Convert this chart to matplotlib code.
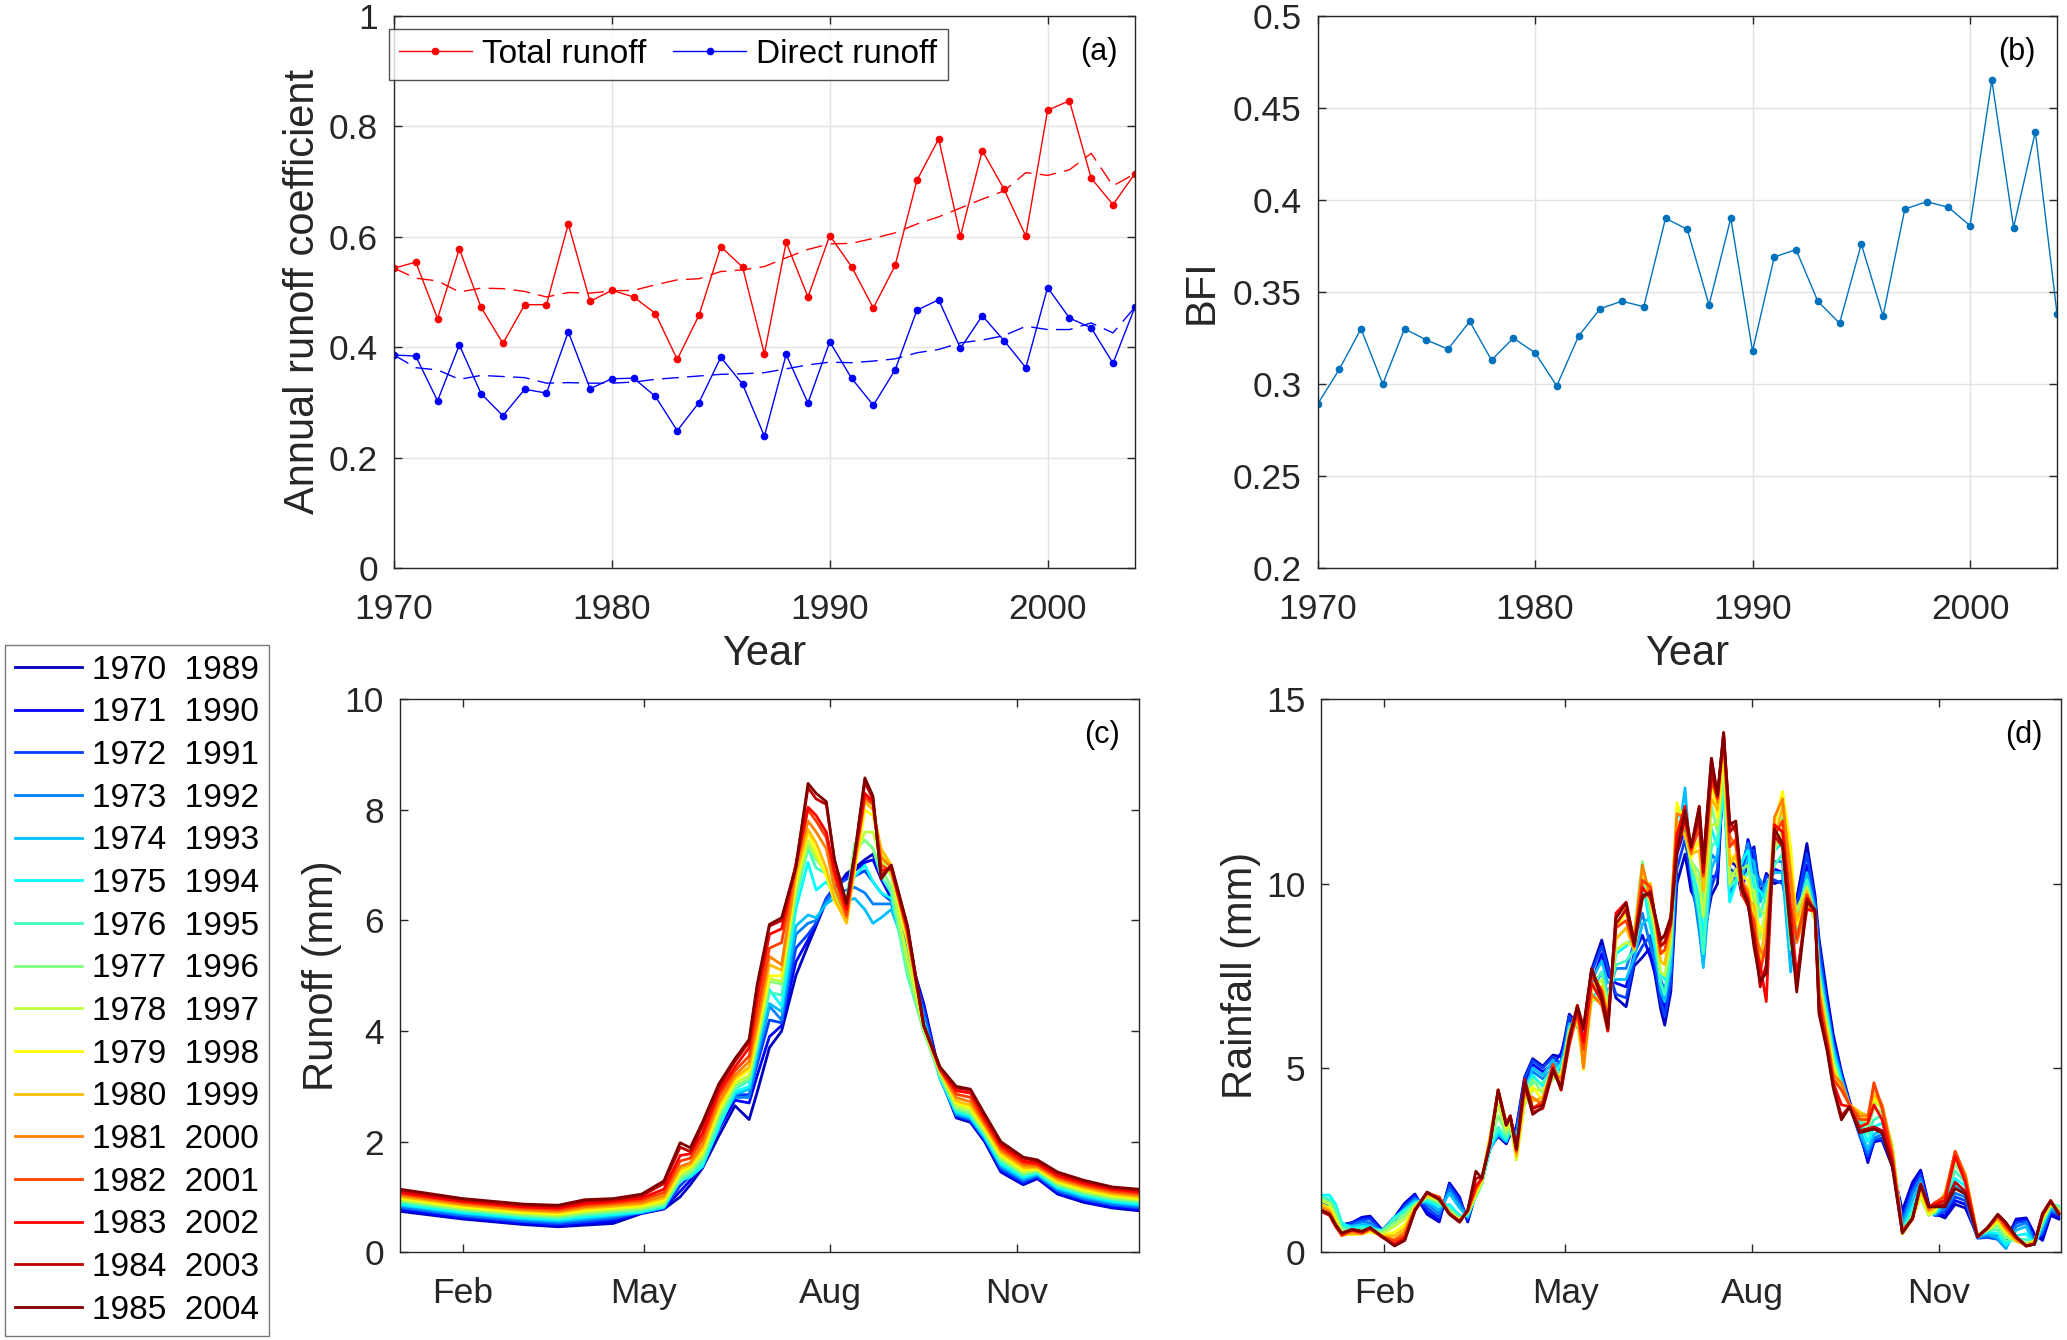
import numpy as np
import matplotlib.pyplot as plt
from matplotlib.lines import Line2D

plt.rcParams['font.family'] = ['Liberation Sans', 'DejaVu Sans']

# ---------------- data ----------------
years = list(range(1970, 2005))

total_runoff = [0.543, 0.554, 0.452, 0.578, 0.472, 0.407, 0.477, 0.477, 0.623, 0.483,
                0.503, 0.491, 0.461, 0.378, 0.458, 0.582, 0.545, 0.388, 0.590, 0.491,
                0.602, 0.546, 0.471, 0.548, 0.702, 0.777, 0.601, 0.756, 0.686, 0.601,
                0.829, 0.846, 0.706, 0.658, 0.714]
total_trend = [0.543, 0.525, 0.520, 0.500, 0.507, 0.506, 0.501, 0.491, 0.499, 0.498,
               0.502, 0.503, 0.513, 0.522, 0.524, 0.537, 0.540, 0.546, 0.562, 0.577,
               0.587, 0.588, 0.597, 0.607, 0.623, 0.636, 0.652, 0.668, 0.683, 0.716,
               0.711, 0.721, 0.751, 0.692, 0.714]
direct_runoff = [0.386, 0.384, 0.303, 0.404, 0.316, 0.276, 0.324, 0.317, 0.428, 0.325,
                 0.343, 0.344, 0.311, 0.249, 0.300, 0.382, 0.333, 0.239, 0.387, 0.299,
                 0.410, 0.344, 0.295, 0.359, 0.467, 0.486, 0.398, 0.457, 0.412, 0.363,
                 0.508, 0.453, 0.435, 0.371, 0.472]
direct_trend = [0.386, 0.363, 0.359, 0.342, 0.349, 0.347, 0.345, 0.335, 0.336, 0.335,
                0.335, 0.337, 0.342, 0.345, 0.348, 0.351, 0.352, 0.354, 0.361, 0.368,
                0.373, 0.372, 0.375, 0.379, 0.390, 0.396, 0.408, 0.413, 0.421, 0.438,
                0.432, 0.432, 0.444, 0.426, 0.472]

bfi = [0.289, 0.308, 0.330, 0.300, 0.330, 0.324, 0.319, 0.334, 0.313, 0.325,
       0.317, 0.299, 0.326, 0.341, 0.345, 0.342, 0.390, 0.384, 0.343, 0.390,
       0.318, 0.369, 0.373, 0.345, 0.333, 0.376, 0.337, 0.395, 0.399, 0.396,
       0.386, 0.465, 0.385, 0.437, 0.338]

# 20-year windows: 1970-1989 ... 1985-2004
window_starts = list(range(1970, 1986))

# mean daily runoff (mm), one row per day of year, one column per window
runoff_days = [1, 32, 62, 79, 92, 106, 120, 131, 139, 144, 150, 158, 166, 173, 177,
               183, 189, 196, 202, 206, 211, 215, 221, 225, 230, 234, 238, 243, 251,
               259, 267, 275, 282, 289, 297, 308, 315, 325, 338, 352, 365]
runoff_table = [
    [0.74, 0.77, 0.80, 0.82, 0.85, 0.87, 0.90, 0.93, 0.95, 0.98, 1.00, 1.03, 1.06, 1.08, 1.12, 1.14],
    [0.60, 0.62, 0.65, 0.67, 0.70, 0.72, 0.75, 0.77, 0.80, 0.82, 0.85, 0.87, 0.90, 0.92, 0.95, 0.97],
    [0.50, 0.52, 0.55, 0.57, 0.60, 0.62, 0.65, 0.67, 0.70, 0.72, 0.75, 0.77, 0.80, 0.82, 0.85, 0.87],
    [0.46, 0.49, 0.51, 0.54, 0.56, 0.59, 0.61, 0.64, 0.67, 0.69, 0.72, 0.74, 0.77, 0.80, 0.83, 0.85],
    [0.49, 0.52, 0.55, 0.58, 0.61, 0.64, 0.67, 0.70, 0.73, 0.76, 0.79, 0.82, 0.85, 0.88, 0.92, 0.95],
    [0.52, 0.56, 0.60, 0.63, 0.66, 0.68, 0.71, 0.74, 0.77, 0.80, 0.83, 0.86, 0.89, 0.92, 0.95, 0.97],
    [0.70, 0.71, 0.72, 0.72, 0.72, 0.73, 0.75, 0.78, 0.81, 0.84, 0.87, 0.90, 0.94, 0.98, 1.02, 1.05],
    [0.78, 0.79, 0.80, 0.80, 0.81, 0.82, 0.84, 0.87, 0.90, 0.94, 0.98, 1.02, 1.08, 1.14, 1.24, 1.29],
    [1.00, 1.10, 1.20, 1.30, 1.35, 1.30, 1.30, 1.35, 1.40, 1.45, 1.50, 1.55, 1.65, 1.75, 1.90, 1.98],
    [1.22, 1.30, 1.38, 1.42, 1.40, 1.36, 1.40, 1.45, 1.50, 1.55, 1.58, 1.62, 1.70, 1.78, 1.82, 1.89],
    [1.52, 1.60, 1.66, 1.70, 1.62, 1.55, 1.62, 1.70, 1.76, 1.82, 1.88, 1.95, 2.05, 2.15, 2.28, 2.35],
    [2.10, 2.22, 2.35, 2.40, 2.30, 2.25, 2.35, 2.45, 2.52, 2.58, 2.65, 2.72, 2.82, 2.90, 2.98, 3.04],
    [2.65, 2.75, 2.85, 2.80, 2.85, 2.90, 2.95, 3.00, 3.05, 3.10, 3.15, 3.20, 3.28, 3.35, 3.45, 3.50],
    [2.40, 2.70, 2.85, 2.80, 2.95, 3.00, 3.10, 3.15, 3.20, 3.30, 3.35, 3.45, 3.55, 3.70, 3.80, 3.85],
    [2.90, 3.20, 3.40, 3.50, 3.60, 3.70, 3.75, 3.80, 3.85, 3.95, 4.05, 4.15, 4.35, 4.60, 4.80, 4.85],
    [3.70, 3.90, 4.20, 4.45, 4.50, 4.75, 4.70, 4.90, 4.95, 5.00, 5.20, 5.35, 5.50, 5.75, 5.90, 5.93],
    [4.00, 4.10, 4.15, 4.20, 4.35, 4.45, 4.65, 4.85, 4.90, 5.00, 5.10, 5.20, 5.60, 5.85, 6.00, 6.05],
    [5.00, 5.25, 5.50, 5.75, 5.90, 6.20, 6.40, 6.50, 6.60, 6.70, 6.80, 6.90, 7.00, 7.00, 7.00, 6.95],
    [5.55, 5.65, 5.75, 5.95, 6.10, 7.05, 7.30, 7.35, 7.45, 7.60, 7.65, 7.80, 8.00, 8.05, 8.40, 8.48],
    [5.90, 5.95, 5.95, 6.00, 6.05, 6.55, 6.95, 7.10, 7.15, 7.25, 7.40, 7.60, 7.80, 7.90, 8.20, 8.30],
    [6.35, 6.40, 6.40, 6.35, 6.30, 6.70, 6.85, 6.90, 6.85, 6.80, 6.95, 7.30, 7.50, 7.60, 8.10, 8.15],
    [6.55, 6.60, 6.60, 6.50, 6.40, 6.50, 6.60, 6.55, 6.45, 6.35, 6.40, 6.60, 6.80, 6.90, 7.10, 7.10],
    [6.85, 6.80, 6.75, 6.55, 6.35, 6.45, 6.40, 6.30, 6.10, 6.00, 5.95, 6.05, 6.10, 6.20, 6.30, 6.30],
    [6.95, 6.90, 6.80, 6.60, 6.40, 6.80, 7.30, 7.40, 7.10, 6.90, 7.00, 7.10, 7.10, 7.15, 7.20, 7.20],
    [7.10, 7.05, 6.90, 6.50, 6.20, 7.00, 7.45, 7.45, 7.60, 8.00, 8.15, 8.20, 8.25, 8.30, 8.50, 8.58],
    [7.20, 7.10, 6.70, 6.30, 5.95, 6.70, 7.30, 7.30, 7.60, 7.90, 8.00, 8.10, 8.10, 8.15, 8.20, 8.25],
    [6.80, 6.75, 6.50, 6.30, 6.05, 6.50, 6.80, 6.95, 7.10, 7.25, 7.30, 7.15, 7.00, 6.90, 6.80, 6.75],
    [6.40, 6.40, 6.35, 6.30, 6.20, 6.40, 6.50, 6.60, 6.80, 6.95, 7.00, 6.95, 6.90, 6.95, 7.00, 7.00],
    [5.50, 5.50, 5.45, 5.40, 5.40, 5.20, 5.00, 5.10, 5.30, 5.60, 5.70, 5.75, 5.80, 5.85, 5.90, 5.90],
    [4.50, 4.45, 4.40, 4.30, 4.20, 4.10, 4.00, 4.00, 4.05, 4.10, 4.10, 4.10, 4.10, 4.10, 4.10, 4.10],
    [3.20, 3.20, 3.15, 3.15, 3.15, 3.15, 3.20, 3.20, 3.25, 3.30, 3.30, 3.30, 3.30, 3.32, 3.35, 3.35],
    [2.43, 2.45, 2.47, 2.49, 2.51, 2.54, 2.57, 2.60, 2.65, 2.70, 2.74, 2.80, 2.86, 2.92, 2.97, 3.00],
    [2.35, 2.37, 2.39, 2.41, 2.43, 2.46, 2.49, 2.52, 2.57, 2.62, 2.66, 2.72, 2.80, 2.88, 2.93, 2.95],
    [2.00, 2.02, 2.04, 2.06, 2.08, 2.10, 2.13, 2.16, 2.20, 2.24, 2.28, 2.32, 2.36, 2.42, 2.48, 2.50],
    [1.45, 1.48, 1.51, 1.54, 1.57, 1.60, 1.64, 1.68, 1.72, 1.76, 1.80, 1.84, 1.88, 1.93, 1.97, 2.00],
    [1.22, 1.24, 1.27, 1.30, 1.33, 1.36, 1.39, 1.42, 1.45, 1.49, 1.53, 1.57, 1.61, 1.65, 1.70, 1.72],
    [1.33, 1.35, 1.37, 1.39, 1.41, 1.43, 1.45, 1.47, 1.49, 1.51, 1.53, 1.55, 1.58, 1.61, 1.65, 1.67],
    [1.05, 1.07, 1.10, 1.12, 1.15, 1.17, 1.20, 1.22, 1.25, 1.28, 1.30, 1.33, 1.36, 1.39, 1.43, 1.45],
    [0.90, 0.92, 0.95, 0.97, 1.00, 1.03, 1.05, 1.08, 1.10, 1.13, 1.16, 1.19, 1.22, 1.25, 1.28, 1.30],
    [0.80, 0.82, 0.85, 0.87, 0.90, 0.92, 0.95, 0.97, 1.00, 1.03, 1.05, 1.08, 1.11, 1.14, 1.17, 1.18],
    [0.75, 0.77, 0.80, 0.82, 0.85, 0.87, 0.90, 0.92, 0.95, 0.97, 1.00, 1.03, 1.06, 1.09, 1.12, 1.14],
]

# mean daily rainfall (mm), same layout
rain_days = [1, 5, 8, 11, 16, 21, 25, 31, 37, 42, 47, 53, 59, 64, 69, 73, 77, 80, 84, 88,
             92, 94, 97, 101, 105, 110, 115, 119, 123, 127, 130, 134, 139, 142, 146, 151,
             155, 159, 163, 168, 170, 173, 176, 180, 183, 187, 189, 193, 196, 199, 202,
             205, 208, 211, 214, 217, 220, 224, 228, 232, 235, 240, 244, 246, 250, 253,
             257, 261, 266, 270, 273, 277, 282, 287, 292, 296, 300, 303, 308, 313, 318,
             324, 329, 334, 338, 343, 348, 352, 356, 360, 364]
rain_table = [
    [1.30, 1.32, 1.35, 1.40, 1.45, 1.55, 1.50, 1.45, 1.40, 1.30, 1.28, 1.20, 1.15, 1.10, 1.12, 1.13],
    [1.20, 1.18, 1.20, 1.30, 1.40, 1.55, 1.45, 1.35, 1.30, 1.20, 1.15, 1.10, 1.05, 1.00, 1.02, 1.03],
    [0.85, 0.90, 0.95, 1.00, 1.10, 1.30, 1.20, 1.05, 0.95, 0.85, 0.80, 0.75, 0.70, 0.70, 0.72, 0.75],
    [0.75, 0.72, 0.70, 0.70, 0.75, 0.80, 0.70, 0.60, 0.55, 0.50, 0.48, 0.45, 0.45, 0.50, 0.50, 0.52],
    [0.80, 0.80, 0.78, 0.72, 0.70, 0.65, 0.60, 0.55, 0.50, 0.48, 0.50, 0.55, 0.60, 0.62, 0.60, 0.62],
    [0.95, 0.92, 0.88, 0.82, 0.75, 0.70, 0.65, 0.60, 0.55, 0.50, 0.50, 0.50, 0.52, 0.55, 0.55, 0.57],
    [0.98, 0.95, 0.90, 0.80, 0.72, 0.68, 0.62, 0.58, 0.55, 0.55, 0.60, 0.62, 0.65, 0.65, 0.66, 0.67],
    [0.60, 0.58, 0.55, 0.55, 0.50, 0.55, 0.60, 0.55, 0.50, 0.45, 0.45, 0.42, 0.42, 0.40, 0.42, 0.42],
    [0.95, 0.90, 0.85, 0.90, 0.95, 0.95, 0.90, 0.80, 0.70, 0.55, 0.45, 0.35, 0.30, 0.22, 0.18, 0.17],
    [1.33, 1.30, 1.25, 1.20, 1.15, 1.15, 1.10, 1.00, 0.90, 0.75, 0.65, 0.55, 0.45, 0.38, 0.33, 0.32],
    [1.58, 1.55, 1.50, 1.45, 1.40, 1.35, 1.30, 1.30, 1.25, 1.20, 1.20, 1.18, 1.15, 1.13, 1.12, 1.13],
    [1.03, 1.10, 1.20, 1.30, 1.35, 1.40, 1.45, 1.50, 1.50, 1.55, 1.55, 1.60, 1.60, 1.62, 1.63, 1.63],
    [0.82, 0.88, 0.95, 1.05, 1.15, 1.25, 1.30, 1.35, 1.40, 1.45, 1.45, 1.50, 1.50, 1.45, 1.43, 1.43],
    [1.88, 1.85, 1.80, 1.70, 1.60, 1.30, 1.20, 1.15, 1.10, 1.05, 1.05, 1.05, 1.05, 1.05, 1.05, 1.03],
    [1.50, 1.45, 1.40, 1.30, 1.20, 1.00, 0.95, 0.90, 0.90, 0.85, 0.85, 0.85, 0.85, 0.82, 0.82, 0.82],
    [0.82, 0.85, 0.90, 0.95, 0.95, 1.00, 1.05, 1.05, 1.10, 1.10, 1.10, 1.12, 1.12, 1.15, 1.13, 1.13],
    [1.60, 1.60, 1.60, 1.55, 1.55, 1.50, 1.50, 1.50, 1.55, 1.60, 1.65, 1.70, 1.75, 1.80, 2.00, 2.20],
    [2.00, 2.00, 1.95, 1.95, 1.90, 1.90, 1.85, 1.90, 1.90, 1.95, 2.00, 2.00, 2.00, 2.00, 2.05, 2.00],
    [2.84, 2.85, 2.85, 2.80, 2.80, 2.85, 2.90, 3.00, 3.10, 3.15, 3.10, 3.05, 3.00, 2.95, 2.95, 2.94],
    [3.14, 3.20, 3.25, 3.20, 3.20, 3.30, 3.40, 3.70, 4.00, 4.30, 4.40, 4.40, 4.40, 4.40, 4.35, 4.40],
    [2.94, 3.00, 3.05, 3.00, 3.00, 3.05, 3.10, 3.20, 3.30, 3.40, 3.50, 3.50, 3.50, 3.45, 3.45, 3.44],
    [3.20, 3.25, 3.30, 3.30, 3.30, 3.30, 3.35, 3.40, 3.50, 3.60, 3.65, 3.70, 3.70, 3.70, 3.68, 3.69],
    [3.40, 3.35, 3.30, 3.20, 3.10, 3.00, 2.80, 2.60, 2.50, 2.55, 2.60, 2.70, 2.75, 2.80, 2.80, 2.79],
    [4.75, 4.60, 4.70, 4.50, 4.30, 4.40, 4.10, 4.30, 4.00, 4.20, 4.40, 4.30, 4.60, 4.50, 4.70, 4.60],
    [5.25, 5.10, 5.20, 4.90, 5.00, 4.80, 4.60, 4.70, 4.40, 4.50, 4.10, 4.20, 3.90, 3.80, 3.90, 3.74],
    [5.05, 4.90, 5.00, 4.70, 4.80, 4.50, 4.60, 4.30, 4.40, 4.10, 4.20, 4.00, 4.10, 3.90, 4.00, 3.94],
    [5.35, 5.10, 5.30, 5.00, 5.20, 4.80, 5.00, 4.70, 4.90, 4.80, 5.00, 4.90, 5.10, 4.90, 5.00, 4.95],
    [5.30, 5.40, 5.10, 5.20, 4.90, 5.10, 4.80, 4.90, 4.60, 4.80, 4.50, 4.70, 4.40, 4.50, 4.40, 4.45],
    [6.46, 6.20, 6.40, 6.00, 6.20, 5.80, 6.10, 5.70, 6.00, 5.90, 5.70, 5.90, 5.60, 5.80, 5.70, 5.80],
    [6.20, 6.50, 6.10, 6.40, 6.20, 6.60, 6.30, 6.50, 6.20, 6.60, 6.40, 6.70, 6.50, 6.60, 6.70, 6.66],
    [5.96, 5.70, 5.90, 5.50, 5.80, 5.40, 5.60, 5.20, 5.00, 4.95, 5.10, 5.00, 5.50, 5.70, 6.10, 6.06],
    [7.67, 7.30, 7.60, 7.10, 7.40, 6.90, 7.20, 6.80, 7.10, 6.90, 7.30, 7.00, 7.50, 7.30, 7.70, 7.67],
    [8.47, 8.10, 8.30, 7.60, 7.90, 7.20, 7.60, 7.00, 7.40, 6.80, 7.20, 6.70, 7.10, 6.80, 7.00, 6.86],
    [7.80, 7.50, 7.70, 7.00, 7.30, 6.60, 6.90, 6.30, 6.70, 6.20, 6.50, 6.00, 6.30, 6.00, 6.20, 6.06],
    [6.90, 7.30, 7.00, 7.70, 7.40, 8.10, 7.80, 8.50, 8.20, 8.80, 8.50, 9.10, 8.80, 9.20, 8.90, 9.07],
    [6.66, 7.20, 6.90, 7.70, 7.40, 8.30, 7.90, 8.80, 8.40, 9.20, 8.80, 9.40, 9.00, 9.50, 9.30, 9.48],
    [7.77, 8.10, 7.90, 8.40, 8.00, 8.60, 8.20, 8.70, 8.30, 8.60, 8.20, 8.50, 8.30, 8.40, 8.30, 8.37],
    [8.00, 8.60, 8.30, 9.20, 8.90, 10.10, 9.60, 10.60, 10.20, 10.40, 10.00, 10.50, 10.10, 9.90, 9.60, 9.68],
    [8.27, 8.00, 8.60, 8.30, 9.10, 8.80, 9.60, 9.20, 9.90, 9.50, 10.00, 9.60, 9.90, 9.60, 9.80, 9.73],
    [6.60, 7.00, 6.80, 7.40, 7.10, 7.60, 7.30, 7.90, 7.60, 8.20, 7.90, 8.40, 8.10, 8.50, 8.30, 8.47],
    [6.16, 6.60, 6.40, 7.10, 6.80, 7.40, 7.00, 7.80, 7.50, 8.10, 7.80, 8.40, 8.20, 8.60, 8.40, 8.60],
    [7.06, 7.60, 7.30, 8.00, 7.70, 8.40, 8.10, 8.70, 8.40, 9.00, 8.70, 9.10, 8.90, 9.10, 8.90, 9.07],
    [10.00, 10.80, 10.40, 11.30, 10.90, 11.80, 11.40, 12.00, 11.60, 12.20, 11.70, 11.90, 11.40, 11.30, 10.80, 10.89],
    [10.80, 11.50, 11.20, 12.10, 12.60, 12.00, 11.60, 11.90, 11.30, 11.60, 11.30, 11.80, 11.60, 12.10, 11.80, 11.99],
    [9.80, 10.00, 10.20, 10.30, 10.40, 10.50, 10.50, 10.60, 10.60, 10.70, 10.80, 10.80, 10.90, 10.95, 11.00, 10.99],
    [9.40, 9.00, 9.50, 8.70, 9.00, 9.60, 9.20, 10.30, 10.00, 11.20, 10.90, 11.80, 11.50, 12.10, 11.80, 12.09],
    [8.50, 8.10, 8.40, 7.80, 7.72, 8.50, 8.10, 9.50, 9.10, 10.20, 9.80, 10.50, 10.20, 10.60, 10.30, 10.58],
    [9.68, 10.20, 9.90, 10.80, 10.40, 11.50, 11.00, 12.10, 11.60, 12.80, 12.30, 13.20, 12.80, 13.40, 13.00, 13.40],
    [10.00, 10.20, 10.40, 10.60, 10.80, 11.00, 11.20, 11.40, 11.60, 11.80, 12.00, 12.20, 12.30, 12.35, 12.40, 12.40],
    [13.10, 13.20, 13.30, 13.00, 12.80, 12.60, 12.80, 13.00, 13.30, 13.60, 13.90, 14.00, 14.10, 14.00, 14.05, 14.10],
    [10.60, 10.00, 10.40, 9.60, 9.90, 9.50, 9.90, 10.30, 10.00, 10.80, 10.50, 11.30, 11.00, 11.70, 11.40, 11.60],
    [10.50, 10.40, 10.30, 10.20, 10.10, 10.00, 10.10, 10.20, 10.40, 10.60, 10.80, 11.00, 11.20, 11.40, 11.60, 11.70],
    [9.68, 10.20, 9.90, 10.50, 10.20, 10.60, 10.10, 10.40, 9.90, 10.20, 9.80, 10.10, 9.70, 10.00, 9.80, 9.88],
    [10.80, 11.20, 10.90, 11.10, 10.70, 10.90, 10.30, 10.50, 9.90, 10.10, 9.60, 9.80, 9.40, 9.60, 9.40, 9.48],
    [11.00, 10.60, 10.90, 10.30, 10.60, 9.90, 10.20, 9.50, 9.80, 9.10, 9.40, 8.70, 9.00, 8.40, 8.60, 8.27],
    [9.68, 10.00, 9.60, 10.10, 9.50, 9.80, 9.10, 9.30, 8.50, 8.80, 7.90, 8.20, 7.60, 7.80, 7.20, 7.36],
    [10.28, 9.90, 10.20, 9.70, 10.00, 9.50, 9.80, 9.10, 9.40, 8.60, 9.00, 8.00, 8.40, 6.80, 7.80, 7.57],
    [10.00, 10.40, 10.10, 10.60, 10.30, 10.90, 10.50, 11.20, 10.90, 11.60, 11.20, 11.80, 11.30, 11.60, 11.30, 11.49],
    [10.08, 10.30, 10.00, 10.60, 10.30, 11.10, 10.80, 11.90, 11.50, 12.50, 12.10, 12.30, 11.70, 11.40, 11.00, 11.09],
    [9.18, 8.60, 9.00, 7.90, 7.60, 8.60, 8.20, 9.90, 9.40, 11.00, 10.40, 10.20, 9.40, 9.20, 8.60, 8.77],
    [9.60, 9.10, 9.40, 8.70, 9.00, 8.60, 9.10, 8.80, 9.30, 8.90, 9.00, 8.40, 8.50, 7.50, 7.30, 7.06],
    [11.09, 10.50, 10.80, 10.00, 10.30, 9.80, 10.10, 9.60, 9.90, 9.50, 9.80, 9.40, 9.70, 9.30, 9.60, 9.50],
    [9.68, 9.60, 9.50, 9.40, 9.30, 9.20, 9.10, 9.00, 9.00, 9.10, 9.20, 9.20, 9.20, 9.25, 9.28, 9.28],
    [8.50, 8.00, 8.30, 7.60, 7.90, 7.30, 7.60, 7.10, 7.40, 6.90, 7.20, 6.70, 7.00, 6.50, 6.70, 6.46],
    [6.96, 6.80, 6.70, 6.60, 6.50, 6.40, 6.30, 6.20, 6.10, 6.00, 5.90, 5.80, 5.70, 5.60, 5.50, 5.45],
    [5.90, 5.80, 5.70, 5.60, 5.50, 5.40, 5.30, 5.20, 5.10, 5.00, 4.90, 4.80, 4.70, 4.60, 4.50, 4.45],
    [4.90, 4.85, 4.80, 4.75, 4.70, 4.60, 4.50, 4.45, 4.40, 4.40, 4.50, 4.60, 4.40, 4.00, 3.70, 3.59],
    [4.10, 4.05, 4.00, 4.00, 4.00, 4.00, 4.00, 4.00, 4.00, 4.00, 4.00, 4.00, 4.00, 3.95, 3.95, 3.94],
    [3.30, 3.20, 3.15, 3.20, 3.30, 3.50, 3.60, 3.70, 3.80, 3.80, 3.80, 3.70, 3.60, 3.40, 3.30, 3.24],
    [2.43, 2.50, 2.60, 2.70, 2.80, 3.00, 3.20, 3.40, 3.50, 3.60, 3.70, 3.70, 3.60, 3.50, 3.35, 3.30],
    [3.00, 3.00, 3.05, 3.10, 3.20, 3.40, 3.60, 3.90, 4.10, 4.20, 4.30, 4.50, 4.60, 4.00, 3.40, 3.34],
    [3.04, 3.05, 3.10, 3.20, 3.30, 3.50, 3.70, 3.80, 3.90, 3.95, 4.00, 4.00, 3.90, 3.60, 3.30, 3.24],
    [2.33, 2.40, 2.50, 2.60, 2.70, 2.80, 2.90, 2.90, 2.90, 2.80, 2.80, 2.70, 2.60, 2.50, 2.40, 2.33],
    [1.13, 1.00, 0.90, 0.80, 0.70, 0.60, 0.55, 0.50, 0.50, 0.50, 0.55, 0.60, 0.60, 0.55, 0.52, 0.52],
    [1.90, 1.80, 1.70, 1.60, 1.40, 1.20, 1.10, 1.00, 0.95, 0.90, 0.90, 0.90, 0.90, 0.90, 0.92, 0.93],
    [2.23, 2.20, 2.10, 2.00, 1.90, 1.70, 1.60, 1.50, 1.50, 1.60, 1.70, 1.80, 1.85, 1.85, 1.83, 1.83],
    [1.30, 1.25, 1.20, 1.15, 1.10, 1.05, 1.00, 1.00, 1.00, 1.05, 1.10, 1.15, 1.20, 1.25, 1.25, 1.23],
    [1.05, 1.00, 1.00, 1.00, 1.05, 1.05, 1.10, 1.10, 1.10, 1.15, 1.20, 1.30, 1.35, 1.30, 1.25, 1.23],
    [0.93, 1.00, 1.10, 1.20, 1.30, 1.40, 1.50, 1.55, 1.60, 1.60, 1.60, 1.55, 1.50, 1.40, 1.30, 1.23],
    [1.30, 1.40, 1.50, 1.60, 1.80, 2.00, 2.20, 2.40, 2.50, 2.60, 2.70, 2.74, 2.74, 2.60, 1.90, 1.73],
    [1.20, 1.30, 1.40, 1.50, 1.60, 1.80, 1.90, 2.00, 2.10, 2.10, 2.10, 2.10, 2.00, 1.90, 1.65, 1.58],
    [0.45, 0.40, 0.38, 0.40, 0.42, 0.45, 0.45, 0.45, 0.45, 0.45, 0.45, 0.42, 0.42, 0.42, 0.42, 0.42],
    [0.50, 0.45, 0.40, 0.45, 0.50, 0.55, 0.60, 0.60, 0.60, 0.65, 0.65, 0.65, 0.65, 0.65, 0.67, 0.67],
    [0.42, 0.40, 0.35, 0.35, 0.40, 0.50, 0.60, 0.70, 0.80, 0.85, 0.90, 0.95, 1.00, 1.00, 1.02, 1.03],
    [0.30, 0.20, 0.12, 0.10, 0.12, 0.20, 0.30, 0.40, 0.50, 0.55, 0.60, 0.65, 0.70, 0.75, 0.80, 0.80],
    [0.90, 0.85, 0.80, 0.70, 0.60, 0.45, 0.35, 0.30, 0.30, 0.30, 0.30, 0.35, 0.40, 0.40, 0.42, 0.42],
    [0.93, 0.90, 0.85, 0.80, 0.70, 0.50, 0.35, 0.25, 0.20, 0.20, 0.20, 0.18, 0.17, 0.17, 0.17, 0.17],
    [0.50, 0.45, 0.35, 0.25, 0.20, 0.20, 0.25, 0.30, 0.30, 0.30, 0.28, 0.25, 0.22, 0.22, 0.22, 0.22],
    [0.32, 0.40, 0.50, 0.60, 0.70, 0.75, 0.80, 0.85, 0.90, 0.90, 0.95, 1.00, 1.00, 1.05, 1.05, 1.03],
    [1.00, 1.05, 1.10, 1.15, 1.20, 1.25, 1.30, 1.30, 1.30, 1.30, 1.35, 1.35, 1.40, 1.40, 1.40, 1.38],
    [0.90, 0.95, 1.00, 1.05, 1.10, 1.20, 1.25, 1.20, 1.15, 1.10, 1.10, 1.10, 1.05, 1.05, 1.05, 1.03],
]

month_ticks = [32, 121, 213, 305]
month_labels = ['Feb', 'May', 'Aug', 'Nov']

# MATLAB jet(16)
jet16 = [(0, 0, .75), (0, 0, 1), (0, .25, 1), (0, .5, 1), (0, .75, 1), (0, 1, 1),
         (.25, 1, .75), (.5, 1, .5), (.75, 1, .25), (1, 1, 0), (1, .75, 0), (1, .5, 0),
         (1, .25, 0), (1, 0, 0), (.75, 0, 0), (.5, 0, 0)]

# ---------------- figure ----------------
TXT = '#262626'
TICK_FS = 25.5
LABEL_FS = 30

fig = plt.figure(figsize=(20.67, 13.40), dpi=100)


def style_axes(ax, grid=False):
    for s in ax.spines.values():
        s.set_color(TXT)
        s.set_linewidth(1.0)
    ax.tick_params(direction='in', length=6, width=1.0, top=True, right=True,
                   labelsize=TICK_FS, colors=TXT, labelcolor=TXT)
    ax.tick_params(axis='x', pad=17.5)
    ax.tick_params(axis='y', pad=11.5)
    if grid:
        ax.grid(True, color='#e3e3e3', linewidth=1.0)
        ax.set_axisbelow(True)


ax_a = fig.add_axes([0.1906, 0.5759, 0.3584, 0.4124])
ax_b = fig.add_axes([0.6374, 0.5759, 0.3578, 0.4124])
ax_c = fig.add_axes([0.1935, 0.0655, 0.3575, 0.4126])
ax_d = fig.add_axes([0.6393, 0.0655, 0.3577, 0.4126])

# (a) runoff coefficient
ax_a.plot(years, total_runoff, '-o', color='r', lw=1.0, ms=4.5, label='Total runoff')
ax_a.plot(years, direct_runoff, '-o', color='b', lw=1.0, ms=4.5, label='Direct runoff')
ax_a.plot(years, total_trend, color='r', lw=1.0, ls=(0, (12, 6)))
ax_a.plot(years, direct_trend, color='b', lw=1.0, ls=(0, (12, 6)))
ax_a.set_xlim(1970, 2004)
ax_a.set_ylim(0, 1)
ax_a.set_xticks([1970, 1980, 1990, 2000])
ax_a.set_yticks([0, 0.2, 0.4, 0.6, 0.8, 1])
ax_a.set_yticklabels(['0', '0.2', '0.4', '0.6', '0.8', '1'])
ax_a.set_xlabel('Year', fontsize=LABEL_FS, color=TXT, labelpad=6)
ax_a.set_ylabel('Annual runoff coefficient', fontsize=LABEL_FS, color=TXT, labelpad=4)
style_axes(ax_a, grid=True)
leg = ax_a.legend(loc='upper left', bbox_to_anchor=(-0.007, 0.976), ncol=2,
                  fontsize=24, frameon=True, fancybox=False, borderaxespad=0,
                  handlelength=2.2, handletextpad=0.3, columnspacing=0.8,
                  borderpad=0.3)
leg.get_frame().set_edgecolor(TXT)
leg.get_frame().set_linewidth(1.0)
ax_a.text(0.952, 0.935, '(a)', transform=ax_a.transAxes, fontsize=22,
          ha='center', va='center')

# (b) BFI
ax_b.plot(years, bfi, '-o', color='#0072BD', lw=1.0, ms=4.5)
ax_b.set_xlim(1970, 2004)
ax_b.set_ylim(0.2, 0.5)
ax_b.set_xticks([1970, 1980, 1990, 2000])
ax_b.set_yticks([0.2, 0.25, 0.3, 0.35, 0.4, 0.45, 0.5])
ax_b.set_yticklabels(['0.2', '0.25', '0.3', '0.35', '0.4', '0.45', '0.5'])
ax_b.set_xlabel('Year', fontsize=LABEL_FS, color=TXT, labelpad=6)
ax_b.set_ylabel('BFI', fontsize=LABEL_FS, color=TXT, labelpad=8)
style_axes(ax_b, grid=True)
ax_b.text(0.945, 0.935, '(b)', transform=ax_b.transAxes, fontsize=22,
          ha='center', va='center')

# (c) runoff and (d) rainfall climatology per 20-year window
runoff = np.array(runoff_table).T
rain = np.array(rain_table).T
labels = [f'{s}  {s + 19}' for s in window_starts]

for i in range(len(window_starts)):
    ax_c.plot(runoff_days, runoff[i], color=jet16[i], lw=2.0)
    ax_d.plot(rain_days, rain[i], color=jet16[i], lw=2.0)

ax_c.set_xlim(1, 365)
ax_c.set_ylim(0, 10)
ax_c.set_yticks([0, 2, 4, 6, 8, 10])
ax_c.set_ylabel('Runoff (mm)', fontsize=LABEL_FS, color=TXT, labelpad=2)
ax_c.text(0.95, 0.935, '(c)', transform=ax_c.transAxes, fontsize=22,
          ha='center', va='center')

ax_d.set_xlim(1, 365)
ax_d.set_ylim(0, 15)
ax_d.set_yticks([0, 5, 10, 15])
ax_d.set_ylabel('Rainfall (mm)', fontsize=LABEL_FS, color=TXT, labelpad=4)
ax_d.text(0.95, 0.935, '(d)', transform=ax_d.transAxes, fontsize=22,
          ha='center', va='center')

for ax in (ax_c, ax_d):
    ax.set_xticks(month_ticks)
    ax.set_xticklabels(month_labels)
    style_axes(ax)

handles = [Line2D([], [], color=jet16[i], lw=2.0) for i in range(len(window_starts))]
wleg = fig.legend(handles, labels, loc='upper left', bbox_to_anchor=(0.0025, 0.519),
                  fontsize=24, frameon=True, fancybox=False, borderaxespad=0,
                  handlelength=2.0, handletextpad=0.3, labelspacing=0.35,
                  borderpad=0.3)
wleg.get_frame().set_edgecolor('#555555')
wleg.get_frame().set_linewidth(1.0)

fig.savefig('out.png', dpi=100, facecolor='white')
